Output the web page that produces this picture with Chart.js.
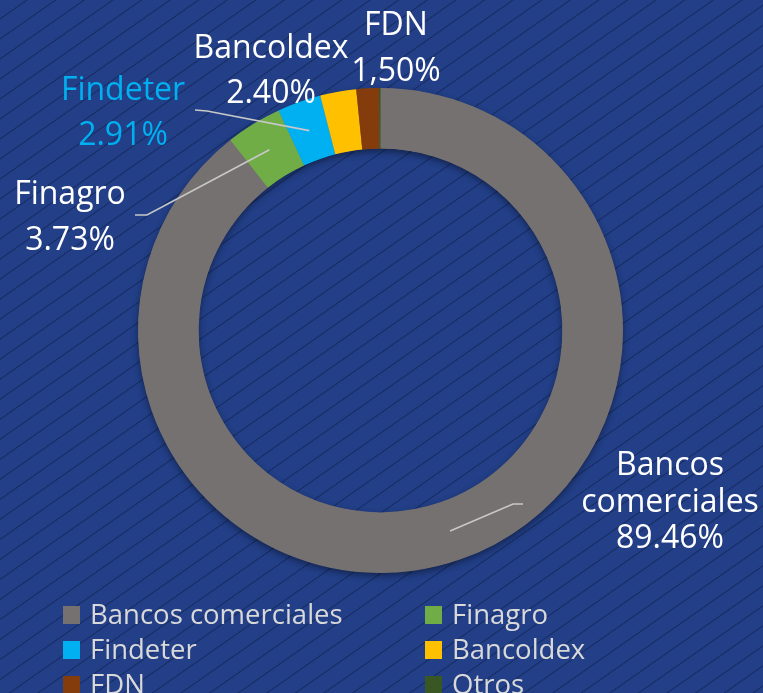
<!DOCTYPE html>
<html><head><meta charset="utf-8">
<script src="https://cdn.jsdelivr.net/npm/chart.js@4/dist/chart.umd.min.js"></script>
<style>
html,body{margin:0;padding:0;width:763px;height:693px;overflow:hidden;}
body{position:relative;background-color:#223f87;
background-image:repeating-linear-gradient(145deg, rgba(0,0,0,0) 0px, rgba(0,0,0,0) 14.6px, rgba(16,32,78,0.5) 15.1px, rgba(16,32,78,0.5) 15.9px, rgba(0,0,0,0) 16.4px);}
#c{position:absolute;left:0;top:0;}
</style></head><body>
<canvas id="c" width="763" height="693"></canvas>
<script>
// ---- data ----
const categories = ["Bancos comerciales","Finagro","Findeter","Bancoldex","FDN","Otros"];
const shares = [89.46, 3.73, 2.91, 2.40, 1.50, 0.10];
const colors = ["#767171","#70ad47","#00b0f0","#ffc000","#843c0c","#385723"];
const labelNames = [["Bancos","comerciales"],["Finagro"],["Findeter"],["Bancoldex"],["FDN"],null];
const decimalSep = [".",".",".",".",",","."];

// ---- layout (positions/styles only) ----
const FONT = "'Open Sans', Lato, sans-serif";
const labelLayout = [
  {x:670, base:[475,512,548], color:"#ffffff", leader:[[513,504],[523,504]]},
  {x:70,  base:[204,250],     color:"#ffffff", leader:[[147,215],[135,215]]},
  {x:123, base:[100,145],     color:"#00b0f0", leader:[[207,111],[195,110]]},
  {x:271, base:[58,103],      color:"#ffffff", leader:null},
  {x:396, base:[35,81],       color:"#ffffff", leader:null},
  null
];
const labelSize = 32;
const legendLayout = {colX:[63,425], textGap:27, rowY:[615,650,685], sw:17, sh:18, size:27.5, color:"#d9d9d9"};

const ringShadow = {
  id:'ringShadow',
  beforeDatasetsDraw(chart){
    const arc = chart.getDatasetMeta(0).data[0];
    if(!arc) return;
    const p = arc.getProps(['x','y','innerRadius','outerRadius'], true);
    const ctx = chart.ctx;
    ctx.save();
    ctx.shadowColor = 'rgba(0,0,0,0.45)';
    ctx.shadowBlur = 7;
    ctx.shadowOffsetY = 3;
    ctx.beginPath();
    ctx.arc(p.x,p.y,p.outerRadius-0.5,0,Math.PI*2);
    ctx.arc(p.x,p.y,p.innerRadius+0.5,Math.PI*2,0,true);
    ctx.closePath();
    ctx.fillStyle = colors[0];
    ctx.fill();
    ctx.restore();
  }
};

const labelsPlugin = {
  id:'labels',
  afterDraw(chart){
    const ctx = chart.ctx;
    const meta = chart.getDatasetMeta(0);
    ctx.save();
    meta.data.forEach((arc,i)=>{
      const L = labelLayout[i];
      if(!L || !labelNames[i]) return;
      const p = arc.getProps(['x','y','startAngle','endAngle','innerRadius','outerRadius'], true);
      const a = (p.startAngle+p.endAngle)/2;
      const r = (p.innerRadius+p.outerRadius)/2;
      const ax = p.x + Math.cos(a)*r, ay = p.y + Math.sin(a)*r;
      if(L.leader){
        ctx.strokeStyle = '#c8c8c8';
        ctx.lineWidth = 1.6;
        ctx.beginPath();
        ctx.moveTo(ax,ay);
        L.leader.forEach(pt=>ctx.lineTo(pt[0],pt[1]));
        ctx.stroke();
      }
      const lines = labelNames[i].concat([shares[i].toFixed(2).replace('.',decimalSep[i])+'%']);
      ctx.fillStyle = L.color;
      ctx.font = labelSize + "px " + FONT;
      ctx.textAlign = 'center';
      ctx.textBaseline = 'alphabetic';
      lines.forEach((t,k)=>ctx.fillText(t, L.x, L.base[k]));
    });
    // legend
    const G = legendLayout;
    ctx.font = G.size + "px " + FONT;
    ctx.textAlign = 'left';
    ctx.textBaseline = 'middle';
    categories.forEach((c,i)=>{
      const col = i%2, row = Math.floor(i/2);
      const x = G.colX[col], y = G.rowY[row];
      ctx.fillStyle = colors[i];
      ctx.fillRect(x, y-G.sh/2, G.sw, G.sh);
      ctx.fillStyle = G.color;
      ctx.fillText(c, x+G.textGap, y+1);
    });
    ctx.restore();
  }
};

new Chart(document.getElementById('c'), {
  type:'doughnut',
  data:{labels:categories, datasets:[{data:shares, backgroundColor:colors, borderWidth:0, hoverOffset:0}]},
  options:{
    responsive:false, animation:false, events:[], cutout:'75%',
    layout:{padding:{left:138,right:140,top:88,bottom:120}},
    plugins:{legend:{display:false}, tooltip:{enabled:false}}
  },
  plugins:[ringShadow, labelsPlugin]
});
</script>
</body></html>
